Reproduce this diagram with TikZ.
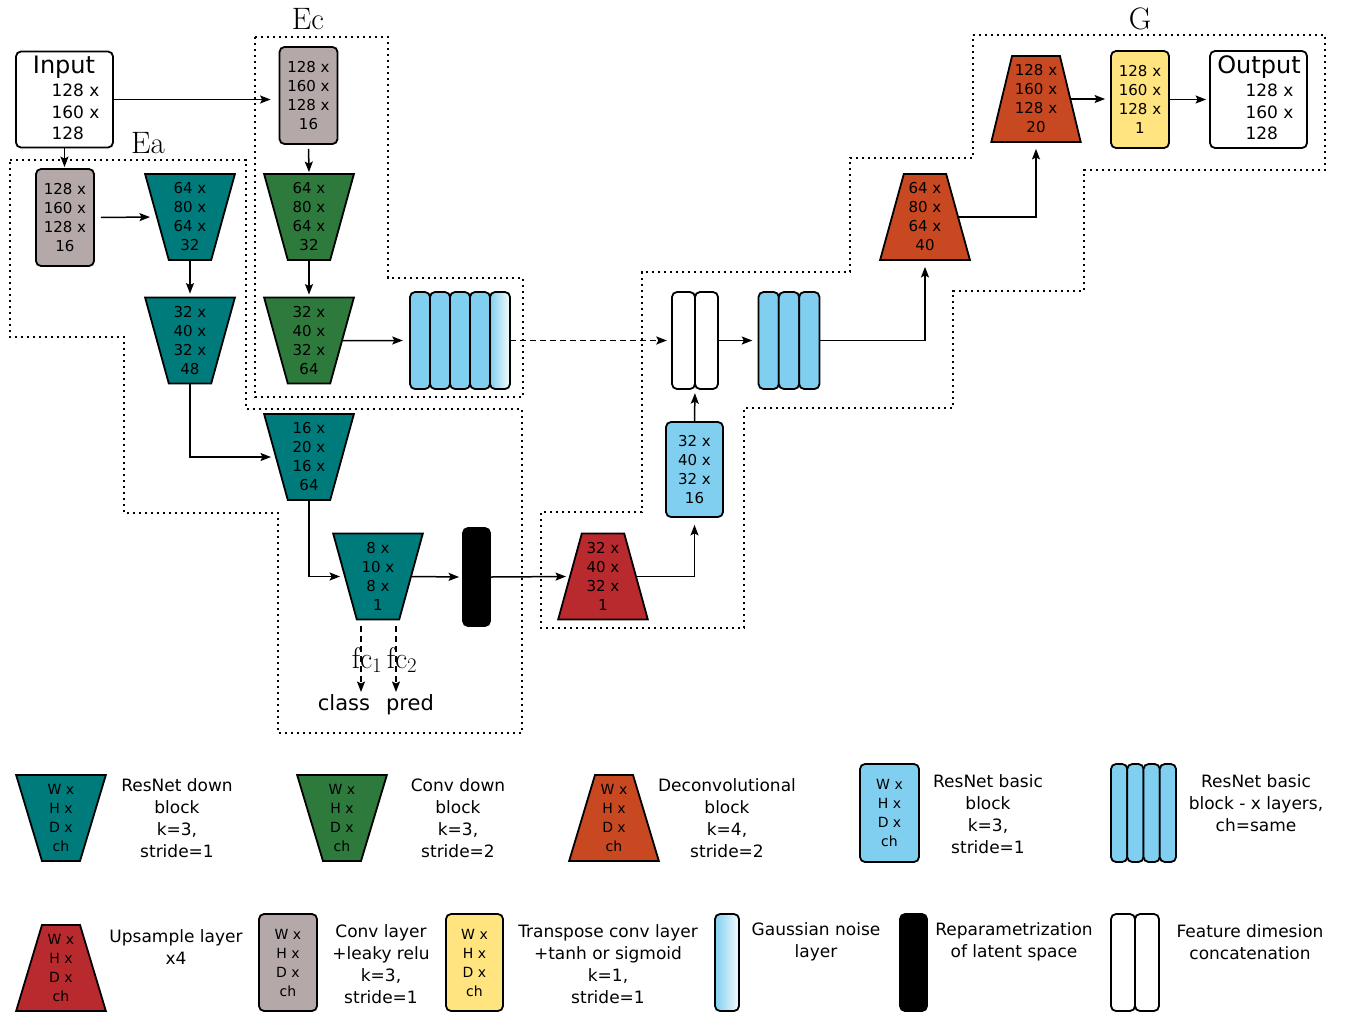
\documentclass[tikz,border=0pt]{standalone}
\usepackage{fontspec}
\newfontfamily\dv{DejaVu Sans}
\usetikzlibrary{shapes.geometric,arrows.meta}
\definecolor{cteal}{RGB}{0,123,124}
\definecolor{cgreen}{RGB}{46,122,60}
\definecolor{cdeconv}{RGB}{200,72,33}
\definecolor{cup}{RGB}{185,42,46}
\definecolor{cgray}{RGB}{180,168,168}
\definecolor{cyel}{RGB}{255,228,128}
\definecolor{cblue}{RGB}{128,207,240}
\tikzset{
  conn/.style={line width=1.5pt, -{Stealth[length=10.5pt,width=8pt,inset=2pt]}},
  dconn/.style={conn, dash pattern=on 6pt off 4pt},
  dotreg/.style={line width=2.2pt, dash pattern=on 2.2pt off 3.8pt},
  trapd/.style={trapezium, trapezium left angle=75, trapezium right angle=75,
    trapezium stretches=true, shape border rotate=180, minimum width=90pt,
    minimum height=86pt, inner sep=0pt, draw=black, line width=1.8pt,
    align=center, font=\dv\fontsize{15}{19}\selectfont},
  trapu/.style={trapd, shape border rotate=0},
  ltrapd/.style={trapd, font=\dv\fontsize{14}{19}\selectfont},
  ltrapu/.style={trapu, font=\dv\fontsize{14}{19}\selectfont},
  rbox/.style={draw=black, line width=1.8pt, rounded corners=5pt, inner sep=0pt,
    align=center, font=\dv\fontsize{15}{19}\selectfont},
  lbox/.style={rbox, font=\dv\fontsize{14}{19}\selectfont},
  grp/.style={inner sep=0pt},
  blk/.style={draw=black, line width=1.8pt, rounded corners=5pt, fill=cblue},
  wblk/.style={blk, fill=white},
  gblk/.style={blk, left color=cblue, right color=cblue!8},
  leg/.style={align=center, font=\dv\fontsize{17}{22}\selectfont},
  big/.style={font=\dv\fontsize{24}{26}\selectfont, anchor=base},
  dim/.style={font=\dv\fontsize{17}{20}\selectfont, anchor=base west},
  lbl/.style={font=\fontsize{31}{33}\selectfont, anchor=base},
}
\begin{document}
\begin{tikzpicture}[x=1pt,y=-1pt]
\useasboundingbox (0,0) rectangle (1346,1015);

% dotted regions
\draw[dotreg] (255,37) -- (388,37) -- (388,278) -- (523,278) -- (523,397) -- (255,397) -- cycle;
\draw[dotreg] (10,160) -- (246,160) -- (246,409) -- (522,409) -- (522,733) -- (278,733) -- (278,513) -- (124,513) -- (124,337) -- (10,337) -- cycle;
\draw[dotreg] (973,35) -- (1325,35) -- (1325,170) -- (1084,170) -- (1084,291) -- (953,291) -- (953,408) -- (744,408) -- (744,628) -- (541,628) -- (541,512) -- (642,512) -- (642,272) -- (850,272) -- (850,158) -- (973,158) -- cycle;
\node[lbl] (lEc) at (308,29) {Ec};
\node[lbl] (lEa) at (148,153) {Ea};
\node[lbl] (lG) at (1140,29) {G};

% input / output
\node[rbox, minimum width=97pt, minimum height=96pt] (inp) at (64.5,99.5) {};
\node[big] (inpT) at (64,73) {Input};
\node[dim] (inp1) at (48,96) {128 x};
\node[dim] (inp2) at (48,118) {160 x};
\node[dim] (inp3) at (48,139) {128};
\node[rbox, minimum width=97pt, minimum height=97pt] (outb) at (1258.5,99.5) {};
\node[big] (outT) at (1259,73) {Output};
\node[dim] (out1) at (1242,96) {128 x};
\node[dim] (out2) at (1242,118) {160 x};
\node[dim] (out3) at (1242,139) {128};

% encoder blocks
\node[rbox, fill=cgray, minimum width=58pt, minimum height=97pt] (ecg) at (308.5,95.5) {128 x\\160 x\\128 x\\16};
\node[rbox, fill=cgray, minimum width=58pt, minimum height=97pt] (eag) at (65,217.5) {128 x\\160 x\\128 x\\16};
\node[trapd, fill=cteal] (ta1) at (190,217) {64 x\\80 x\\64 x\\32};
\node[trapd, fill=cteal] (ta2) at (190,340.5) {32 x\\40 x\\32 x\\48};
\node[trapd, fill=cgreen] (tg1) at (309,217) {64 x\\80 x\\64 x\\32};
\node[trapd, fill=cgreen] (tg2) at (309,340.5) {32 x\\40 x\\32 x\\64};
\node[trapd, fill=cteal] (ta3) at (309,457) {16 x\\20 x\\16 x\\64};
\node[trapd, fill=cteal] (ta4) at (378,576.5) {8 x\\10 x\\8 x\\1};
\node[rbox, fill=black, minimum width=27pt, minimum height=98pt] (lat) at (476.5,577) {};

% resnet 5-layer block
\node[grp, minimum width=100pt, minimum height=97pt] (res5) at (460,340.5) {};
\foreach \i in {0,...,3} \draw[blk] (410+20*\i,292) rectangle ++(20,97);
\draw[gblk] (490,292) rectangle ++(20,97);

% decoder
\node[trapu, fill=cup] (up1) at (603,576.5) {32 x\\40 x\\32 x\\1};
\node[rbox, fill=cblue, minimum width=57pt, minimum height=95pt] (bb) at (694.5,469.5) {32 x\\40 x\\32 x\\16};
\node[grp, minimum width=46pt, minimum height=97pt] (cat) at (695,340.5) {};
\draw[wblk] (672,292) rectangle ++(23,97);
\draw[wblk] (695,292) rectangle ++(23,97);
\node[grp, minimum width=61pt, minimum height=97pt] (res3) at (789,340.5) {};
\foreach \i in {0,1,2} \draw[blk] (758.5+20.33*\i,292) rectangle ++(20.33,97);
\node[trapu, fill=cdeconv] (dc64) at (925,217) {64 x\\80 x\\64 x\\40};
\node[trapu, fill=cdeconv] (dc128) at (1036,99) {128 x\\160 x\\128 x\\20};
\node[rbox, fill=cyel, minimum width=58pt, minimum height=97pt] (yel) at (1140,99.5) {128 x\\160 x\\128 x\\1};

% connectors
\draw[conn, shorten >=8pt] (inp.east) -- (inp.east -| ecg.west);
\draw[conn, shorten >=1pt] (inp.south) -- (inp.south |- eag.north);
\draw[conn, shorten <=6pt, shorten >=6pt] (eag.east) -- (ta1.180);
\draw[conn, shorten >=3pt] (ta1.270) -- (ta2.90);
\draw[conn, shorten <=4pt, shorten >=1pt] (ecg.south) -- (tg1.90);
\draw[conn, shorten >=2pt] (tg1.270) -- (tg2.90);
\draw[conn, shorten >=7pt] (tg2.0) -- (res5.west);
\draw[dconn, shorten >=5pt] (res5.east) -- (cat.west);
\draw[conn, shorten >=6pt] (cat.east) -- (res3.west);
\draw[conn, shorten >=6pt] (res3.east) -| (dc64.270);
\draw[conn, shorten >=6pt] (dc64.0) -| (dc128.270);
\draw[conn, shorten >=5pt] (dc128.0) -- (dc128.0 -| yel.west);
\draw[conn, shorten >=3pt] (yel.east) -- (outb.west);
\draw[conn, shorten >=4pt] (ta2.270) |- (ta3.180);
\draw[conn, shorten >=4pt] (ta3.270) |- (ta4.180);
\draw[conn, shorten >=3pt] (ta4.0) -- (lat.west);
\draw[conn, shorten >=3pt] (lat.east) -- (up1.180);
\draw[conn, shorten >=7pt] (up1.0) -| (bb.south);
\draw[conn, shorten >=4pt] (bb.north) -- (cat.south);

% fc outputs
\coordinate (fc1e) at (361,692);
\coordinate (fc2e) at (396,692);
\draw[dconn, shorten <=6pt] (ta4.270 -| fc1e) -- (fc1e);
\draw[dconn, shorten <=6pt] (ta4.270 -| fc2e) -- (fc2e);
\node[font=\fontsize{30}{32}\selectfont, anchor=base] (fc1) at (367,668) {$\mathrm{fc}_1$};
\node[font=\fontsize{30}{32}\selectfont, anchor=base] (fc2) at (402,668) {$\mathrm{fc}_2$};
\node[font=\dv\fontsize{21}{24}\selectfont, anchor=base] (cls) at (344,710) {class};
\node[font=\dv\fontsize{21}{24}\selectfont, anchor=base] (prd) at (410,710) {pred};

% legend row 1
\node[ltrapd, fill=cteal] (lgA) at (61,818) {W x\\H x\\D x\\ch};
\node[leg] (lgAt) at (177,818) {ResNet down\\block\\k=3,\\stride=1};
\node[ltrapd, fill=cgreen] (lgB) at (342,818) {W x\\H x\\D x\\ch};
\node[leg] (lgBt) at (458,818) {Conv down\\block\\k=3,\\stride=2};
\node[ltrapu, fill=cdeconv] (lgC) at (614,818) {W x\\H x\\D x\\ch};
\node[leg] (lgCt) at (727,818) {Deconvolutional\\block\\k=4,\\stride=2};
\node[lbox, fill=cblue, minimum width=59pt, minimum height=98pt] (lgD) at (889.5,813) {W x\\H x\\D x\\ch};
\node[leg] (lgDt) at (988,814) {ResNet basic\\block\\k=3,\\stride=1};
\node[grp, minimum width=65pt, minimum height=98pt] (lgE) at (1143.5,813) {};
\foreach \i in {0,...,3} \draw[blk] (1111+16.25*\i,764) rectangle ++(16.25,98);
\node[leg] (lgEt) at (1256,803) {ResNet basic\\block - x layers,\\ch=same};

% legend row 2
\node[ltrapu, fill=cup] (lgF) at (61,968) {W x\\H x\\D x\\ch};
\node[leg] (lgFt) at (176,947.5) {Upsample layer\\x4};
\node[lbox, fill=cgray, minimum width=58pt, minimum height=97pt] (lgG) at (288,962.5) {W x\\H x\\D x\\ch};
\node[leg] (lgGt) at (381,964) {Conv layer\\+leaky relu\\k=3,\\stride=1};
\node[lbox, fill=cyel, minimum width=57pt, minimum height=97pt] (lgH) at (474.5,962.5) {W x\\H x\\D x\\ch};
\node[leg] (lgHt) at (608,964) {Transpose conv layer\\+tanh or sigmoid\\k=1,\\stride=1};
\node[grp, minimum width=24pt, minimum height=97pt] (lgI) at (727,962.5) {};
\draw[gblk] (715,914) rectangle ++(24,97);
\node[leg] (lgIt) at (816,942) {Gaussian noise\\layer};
\node[rbox, fill=black, minimum width=27pt, minimum height=97pt] (lgJ) at (913.5,962.5) {};
\node[leg] (lgJt) at (1014,942) {Reparametrization\\of latent space};
\node[grp, minimum width=48pt, minimum height=97pt] (lgK) at (1135,962.5) {};
\draw[wblk] (1111,914) rectangle ++(24,97);
\draw[wblk] (1135,914) rectangle ++(24,97);
\node[leg] (lgKt) at (1250,942) {Feature dimesion\\concatenation};
\end{tikzpicture}
\end{document}
